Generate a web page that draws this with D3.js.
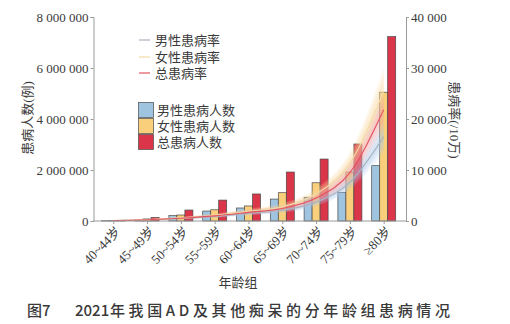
<!DOCTYPE html>
<html><head><meta charset="utf-8">
<script src="https://cdn.jsdelivr.net/npm/d3@7/dist/d3.min.js"></script>
<style>
body{margin:0;background:#fff;}
svg{display:block;}
text{fill:#3a3a3a;}
</style></head>
<body>
<svg id="c" width="510" height="324"></svg>
<script>
// ---- data ----
const categories = ["40~44岁","45~49岁","50~54岁","55~59岁","60~64岁","65~69岁","70~74岁","75~79岁","≥80岁"];
const maleCases   = [10000, 60000, 210000, 390000, 510000, 860000, 930000, 1125000, 2170000];
const femaleCases = [12000, 80000, 235000, 440000, 590000, 1110000, 1500000, 1920000, 5050000];
const totalCases  = [22000, 140000, 430000, 820000, 1060000, 1920000, 2430000, 3020000, 7230000];

const maleRate    = [90, 220, 480, 900, 1500, 2100, 3700, 7600, 16500];
const maleRateLo  = [50, 130, 330, 650, 1100, 1600, 2900, 6200, 13500];
const maleRateHi  = [130, 320, 650, 1200, 1900, 2700, 4600, 9200, 19500];
const femaleRate   = [110, 280, 620, 1100, 1900, 2800, 5300, 11300, 25500];
const femaleRateLo = [70, 170, 430, 830, 1450, 2200, 4300, 9300, 21500];
const femaleRateHi = [160, 400, 850, 1450, 2450, 3500, 6400, 13500, 30000];
const totalRate   = [100, 250, 550, 1000, 1700, 2450, 4500, 9500, 21800];
const totalRateLo = [60, 150, 380, 750, 1300, 1900, 3600, 7800, 18500];
const totalRateHi = [150, 350, 750, 1300, 2200, 3100, 5500, 11500, 25000];

const leftTicks = [0, 2000000, 4000000, 6000000, 8000000];
const rightTicks = [0, 10000, 20000, 30000, 40000];
const barSeriesNames = ["男性患病人数","女性患病人数","总患病人数"];
const lineSeriesNames = ["男性患病率","女性患病率","总患病率"];

// ---- layout ----
const svg = d3.select("#c");
const L = 93.5, R = 406, T = 17, B = 221;
const numFont = "'Liberation Serif','Noto Sans CJK SC',serif";
const cjkFont = "'Liberation Serif','Noto Sans CJK SC',sans-serif";

const x = d3.scalePoint().domain(categories).range([113.3, 383.7]);
const xs = d3.scaleBand().domain([0,1,2]).range([-12, 12]);
const yL = d3.scaleLinear().domain([0, 8000000]).range([B, T]);
const yR = d3.scaleLinear().domain([0, 40000]).range([B, T]);

const barColors = ["#9fc4e0", "#f9cf7c", "#db3549"];
const ribbonColors = ["#a9c9ea", "#f9d79a", "#f2a0a4"];
const lineColors = ["#aab3bf", "#f2dba6", "#e2535f"];

// ---- bars ----
const barData = [maleCases, femaleCases, totalCases];
const gBars = svg.append("g");
barData.forEach((arr, s) => {
  gBars.selectAll(null).data(arr).join("rect")
    .attr("x", (d,i) => x(categories[i]) + xs(s))
    .attr("width", xs.bandwidth())
    .attr("y", d => yL(d))
    .attr("height", d => B - yL(d))
    .attr("fill", barColors[s])
    .attr("stroke", "#4a4a4a")
    .attr("stroke-width", 0.7);
});

// ---- ribbons ----
const mids = [maleRate, femaleRate, totalRate];
const los = [maleRateLo, femaleRateLo, totalRateLo];
const his = [maleRateHi, femaleRateHi, totalRateHi];
const gRib = svg.append("g");
[0,1,2].forEach(s => {
  [1, 0.7, 0.4].forEach(k => {
    const area = d3.area()
      .x((d,i) => x(categories[i]))
      .y0((d,i) => yR(mids[s][i] - k*(mids[s][i]-los[s][i])))
      .y1((d,i) => yR(mids[s][i] + k*(his[s][i]-mids[s][i])))
      .curve(d3.curveMonotoneX);
    gRib.append("path").datum(mids[s]).attr("d", area)
      .attr("fill", ribbonColors[s]).attr("opacity", 0.2);
  });
});

// ---- lines ----
const gLines = svg.append("g");
[0,1,2].forEach(s => {
  const line = d3.line().x((d,i) => x(categories[i])).y(d => yR(d)).curve(d3.curveMonotoneX);
  gLines.append("path").datum(mids[s]).attr("d", line)
    .attr("fill", "none").attr("stroke", lineColors[s]).attr("stroke-width", 1.1);
});

// ---- axes ----
const fmt = v => d3.format(",")(v).replace(/,/g, " ");
const axL = svg.append("g").attr("transform", `translate(${L},0)`)
  .call(d3.axisLeft(yL).tickValues(leftTicks).tickFormat(fmt).tickSize(3).tickPadding(2));
const axR = svg.append("g").attr("transform", `translate(${R},0)`)
  .call(d3.axisRight(yR).tickValues(rightTicks).tickFormat(fmt).tickSize(3).tickPadding(2));
const axB = svg.append("g").attr("transform", `translate(0,${B})`)
  .call(d3.axisBottom(x).tickSize(3).tickFormat(""));
[axL, axR, axB].forEach(a => {
  a.select(".domain").attr("stroke", "#9a9a9a");
  a.selectAll(".tick line").attr("stroke", "#9a9a9a");
  a.selectAll("text").attr("font-family", numFont).attr("font-size", 13).attr("fill", "#3a3a3a");
});
axB.select(".domain").attr("d", `M${L},0H${R}`);

// x tick labels
svg.append("g").selectAll("text").data(categories).join("text")
  .attr("transform", d => `translate(${x(d)+5},${B+8}) rotate(-45)`)
  .attr("text-anchor", "end").attr("dy", "0.35em")
  .attr("font-family", cjkFont).attr("font-size", 13)
  .text(d => d);

// axis titles
svg.append("text").attr("transform", "translate(31.5,118) rotate(-90)")
  .attr("text-anchor", "middle").attr("font-family", cjkFont).attr("font-size", 13)
  .text("患病人数(例)");
svg.append("text").attr("transform", "translate(450,120) rotate(90)")
  .attr("text-anchor", "middle").attr("font-family", cjkFont).attr("font-size", 13)
  .text("患病率(/10万)");
svg.append("text").attr("x", 238).attr("y", 287)
  .attr("text-anchor", "middle").attr("font-family", cjkFont).attr("font-size", 13)
  .text("年龄组");

// ---- legends ----
const lineLegY = [40, 57, 73];
lineSeriesNames.forEach((n, i) => {
  svg.append("line").attr("x1", 139).attr("x2", 150).attr("y1", lineLegY[i]).attr("y2", lineLegY[i])
    .attr("stroke", lineColors[i]).attr("stroke-width", 1.2);
  svg.append("text").attr("x", 155).attr("y", lineLegY[i]).attr("dy", "0.36em")
    .attr("font-family", cjkFont).attr("font-size", 13).text(n);
});
const barLegY = [110, 126, 142];
barSeriesNames.forEach((n, i) => {
  svg.append("rect").attr("x", 138.5).attr("y", barLegY[i]-7.5).attr("width", 15).attr("height", 15)
    .attr("fill", barColors[i]).attr("stroke", "#4a4a4a").attr("stroke-width", 0.7);
  svg.append("text").attr("x", 157).attr("y", barLegY[i]).attr("dy", "0.36em")
    .attr("font-family", cjkFont).attr("font-size", 13).text(n);
});

// ---- caption ----
const capFont = "'Noto Sans CJK SC','Noto Sans',sans-serif";
const cap = svg.append("g").attr("font-family", capFont).attr("font-size", 15)
  .attr("font-weight", 500);
cap.append("text").attr("x", 27).attr("y", 316).attr("fill", "#222").text("图7");
cap.append("text").attr("x", 75).attr("y", 316).attr("fill", "#222").text("2021");
cap.append("text").attr("x", 110).attr("y", 316).attr("fill", "#222")
  .attr("textLength", 340).attr("lengthAdjust", "spacing")
  .text("年我国AD及其他痴呆的分年龄组患病情况");
</script>
</body></html>
